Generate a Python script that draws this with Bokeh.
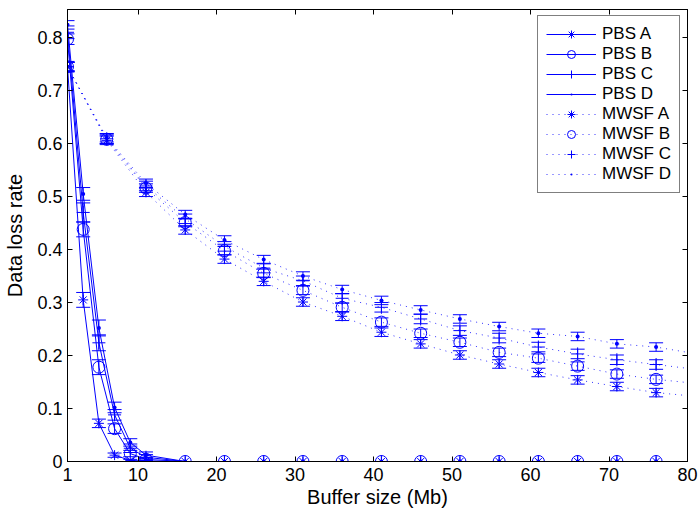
from bokeh.plotting import figure
from bokeh.models import (Range1d, LinearAxis, FixedTicker, CustomJSTickFormatter,
                          Whisker, TeeHead, ColumnDataSource, Legend, LegendItem)
from bokeh.embed import file_html
from bokeh.resources import INLINE

# ---- data ----
pbs_x = [1, 3, 5, 7, 9, 11, 16, 21, 26, 31, 36, 41, 46, 51, 56, 61, 66, 71, 76]
pbs_a = [0.745, 0.305, 0.072, 0.012, 0.002, 0.001] + [0.0] * 13
pbs_a_err = [0.010, 0.014, 0.008, 0.004, 0.002, 0.001] + [0.0] * 13
pbs_b = [0.797, 0.438, 0.178, 0.062, 0.015, 0.004] + [0.0] * 13
pbs_b_err = [0.010, 0.014, 0.014, 0.009, 0.006, 0.003] + [0.0] * 13
pbs_c = [0.810, 0.470, 0.224, 0.088, 0.025, 0.008] + [0.0] * 13
pbs_c_err = [0.012, 0.018, 0.015, 0.010, 0.008, 0.005] + [0.0] * 13
pbs_d = [0.824, 0.505, 0.252, 0.102, 0.036, 0.012] + [0.0] * 13
pbs_d_err = [0.008, 0.012, 0.015, 0.010, 0.007, 0.006] + [0.0] * 13

mw_x = [1, 6, 11, 16, 21, 26, 31, 36, 41, 46, 51, 56, 61, 66, 71, 76, 81]
mw_a = [0.745, 0.606, 0.508, 0.437, 0.382, 0.340, 0.301, 0.274, 0.244, 0.222,
        0.201, 0.184, 0.168, 0.154, 0.1415, 0.130, 0.123]
mw_b = [0.745, 0.608, 0.516, 0.451, 0.398, 0.355, 0.323, 0.291, 0.263, 0.242,
        0.225, 0.206, 0.195, 0.180, 0.165, 0.155, 0.1475]
mw_c = [0.745, 0.609, 0.520, 0.458, 0.406, 0.365, 0.341, 0.308, 0.291, 0.269,
        0.247, 0.233, 0.216, 0.203, 0.192, 0.183, 0.174]
mw_d = [0.745, 0.611, 0.525, 0.466, 0.418, 0.381, 0.350, 0.3245, 0.304, 0.286,
        0.269, 0.2547, 0.242, 0.236, 0.222, 0.216, 0.2035]
mw_a_err = [0.008] * 17
mw_b_err = [0.008] * 17
mw_c_err = [0.009] * 17
mw_d_err = [0.008] * 17

x_ticks = [1, 10, 20, 30, 40, 50, 60, 70, 80]
y_ticks = [0, 0.1, 0.2, 0.3, 0.4, 0.5, 0.6, 0.7, 0.8]
labels = ["PBS A", "PBS B", "PBS C", "PBS D", "MWSF A", "MWSF B", "MWSF C", "MWSF D"]

BLUE = "#0000ff"
FONT = "Liberation Sans"

p = figure(width=698, height=512, output_backend="svg", toolbar_location=None,
           x_range=Range1d(1, 80), y_range=Range1d(0, 0.853),
           min_border_left=67, min_border_right=11, min_border_top=9, min_border_bottom=51,
           x_axis_label="Buffer size (Mb)", y_axis_label="Data loss rate")
p.xgrid.visible = False
p.ygrid.visible = False
p.outline_line_color = "black"
p.outline_line_width = 1
p.background_fill_color = "white"
p.border_fill_color = "white"

fmt = CustomJSTickFormatter(code="return String(Number(tick.toFixed(2)));")
blank = CustomJSTickFormatter(code="return '';")

for ax in (p.xaxis[0], p.yaxis[0]):
    ax.major_tick_in = 5
    ax.major_tick_out = 0
    ax.minor_tick_line_color = None
    ax.axis_line_color = "black"
    ax.major_tick_line_color = "black"
    ax.major_label_text_font = FONT
    ax.major_label_text_font_size = "18px"
    ax.major_label_text_color = "black"
    ax.axis_label_text_font = FONT
    ax.axis_label_text_font_size = "20px"
    ax.axis_label_text_font_style = "normal"
    ax.axis_label_text_color = "black"
    ax.formatter = fmt
p.xaxis[0].ticker = FixedTicker(ticks=x_ticks)
p.yaxis[0].ticker = FixedTicker(ticks=y_ticks)
p.xaxis[0].major_label_standoff = 6
p.xaxis[0].axis_label_standoff = 2
p.yaxis[0].major_label_standoff = 5
p.yaxis[0].axis_label_standoff = 8

for loc, tk in (("above", x_ticks), ("right", y_ticks)):
    ax = LinearAxis(ticker=FixedTicker(ticks=tk), formatter=blank,
                    major_tick_in=5, major_tick_out=0, minor_tick_line_color=None,
                    major_label_standoff=0, axis_line_color="black",
                    major_label_text_font_size="1px")
    p.add_layout(ax, loc)

series = [
    (pbs_x, pbs_a, pbs_a_err, "asterisk", 10),
    (pbs_x, pbs_b, pbs_b_err, "circle", 12),
    (pbs_x, pbs_c, pbs_c_err, "cross", 13),
    (pbs_x, pbs_d, pbs_d_err, "dot", 16),
    (mw_x, mw_a, mw_a_err, "asterisk", 10),
    (mw_x, mw_b, mw_b_err, "circle", 12),
    (mw_x, mw_c, mw_c_err, "cross", 13),
    (mw_x, mw_d, mw_d_err, "dot", 16),
]

items = []
for i, (xs, ys, es, mk, sz) in enumerate(series):
    src = ColumnDataSource(dict(x=xs, y=ys,
                                lo=[y - e for y, e in zip(ys, es)],
                                hi=[y + e for y, e in zip(ys, es)]))
    dotted = i >= 4
    w = Whisker(source=src, base="x", upper="hi", lower="lo", line_color=BLUE,
                line_width=1,
                upper_head=TeeHead(size=14, line_color=BLUE, line_width=1),
                lower_head=TeeHead(size=14, line_color=BLUE, line_width=1))
    p.add_layout(w)
    if dotted:
        ln = p.line("x", "y", source=src, line_color=BLUE, line_width=1,
                    line_dash="1 5", line_alpha=0.8)
    else:
        ln = p.line("x", "y", source=src, line_color=BLUE, line_width=1)
    sc = p.scatter("x", "y", source=src, marker=mk, size=sz, line_color=BLUE,
                   line_width=2 if mk == "dot" else 1,
                   fill_color=None if mk != "dot" else BLUE)
    items.append(LegendItem(label=labels[i], renderers=[ln, sc]))

legend = Legend(items=items, location=(470, 268), glyph_width=50, glyph_height=20,
                label_height=20, spacing=0, padding=8, label_standoff=6,
                label_text_font=FONT, label_text_font_size="17px",
                label_text_color="black", border_line_color="black",
                border_line_width=1, background_fill_color="white",
                background_fill_alpha=1.0, margin=0)
p.add_layout(legend, "center")

open("out.html", "w").write(file_html(p, INLINE))
